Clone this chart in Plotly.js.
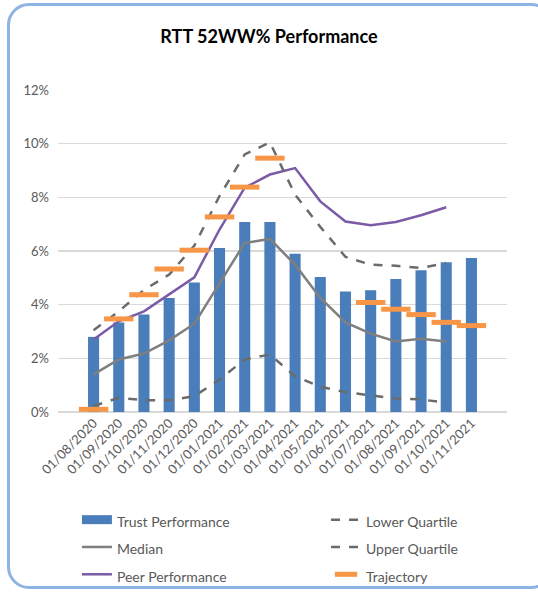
<!DOCTYPE html>
<html>
<head>
<meta charset="utf-8">
<script src="https://cdn.plot.ly/plotly-3.0.1.min.js"></script>
<style>
  html, body { margin: 0; padding: 0; background: #fff; }
  #wrap { position: relative; width: 538px; height: 592px; overflow: hidden; }
  #frame { position: absolute; left: 7px; top: 3px; width: 540px; height: 580px;
           border: 3px solid #8db4e2; border-radius: 22px; box-sizing: content-box; pointer-events: none; z-index: 2; }
  #chart { position: absolute; left: 0; top: 0; width: 538px; height: 592px; }
</style>
</head>
<body>
<div id="wrap">
  <div id="chart"></div>
  <div id="frame"></div>
</div>
<script>
const months = ['01/08/2020','01/09/2020','01/10/2020','01/11/2020','01/12/2020','01/01/2021','01/02/2021','01/03/2021','01/04/2021','01/05/2021','01/06/2021','01/07/2021','01/08/2021','01/09/2021','01/10/2021','01/11/2021'];
const trustPerformance = [0.0280,0.0334,0.0363,0.0425,0.0483,0.0611,0.0708,0.0708,0.0590,0.0503,0.0449,0.0454,0.0496,0.0528,0.0558,0.0574];
const lowerQuartile = [0.0022,0.0053,0.0044,0.0044,0.0059,0.0121,0.0196,0.0214,0.0133,0.0094,0.0074,0.0061,0.0050,0.0047,0.0034,null];
const median = [0.0140,0.0196,0.0218,0.0267,0.0329,0.0481,0.0630,0.0645,0.0549,0.0425,0.0334,0.0292,0.0263,0.0273,0.0263,null];
const upperQuartile = [0.0305,0.0375,0.0455,0.0512,0.0620,0.0805,0.0960,0.1005,0.0810,0.0690,0.0578,0.0549,0.0545,0.0537,0.0555,null];
const peerPerformance = [0.0270,0.0338,0.0375,0.0437,0.0502,0.0680,0.0836,0.0885,0.0909,0.0785,0.0710,0.0696,0.0708,0.0733,0.0763,null];
const trajectory = [0.0010,0.0347,0.0437,0.0533,0.0603,0.0727,0.0838,0.0946,null,null,null,0.0408,0.0383,0.0363,0.0334,0.0322];

const barColor = '#4a7ebb';
const lf = t => '<span style="font-size:14px">' + t + '</span>';
const traces = [
  {type:'bar', name:'Trust Performance', x: months, y: trustPerformance, marker:{color:barColor}, showlegend:false},
  // legend-only entry for the bars (wide bar symbol like the reference)
  {type:'scatter', mode:'lines', name: lf('Trust Performance'), x: months, y: months.map(() => null),
   line:{color:barColor, width:9}, hoverinfo:'skip', legend:'legend'},
  {type:'scatter', mode:'lines', name: lf('Median'), x: months, y: median, line:{color:'#7f7f7f', width:2.5}, legend:'legend'},
  {type:'scatter', mode:'lines', name: lf('Peer Performance'), x: months, y: peerPerformance, line:{color:'#7b5aa6', width:2.5}, legend:'legend'},
  {type:'scatter', mode:'lines', name: lf('Lower Quartile'), x: months, y: lowerQuartile, line:{color:'#6b6b6b', width:2.5, dash:'dash'}, legend:'legend2'},
  {type:'scatter', mode:'lines', name: lf('Upper Quartile'), x: months, y: upperQuartile, line:{color:'#6b6b6b', width:2.5, dash:'dash'}, legend:'legend2'},
  {type:'scatter', mode:'markers', name: lf('Trajectory'), x: months, y: trajectory,
   marker:{symbol:'line-ew', size:21, line:{color:'#f79646', width:5}}, legend:'legend2'}
];

const legendBase = {orientation:'v', xref:'container', yref:'container', xanchor:'left', yanchor:'top',
                    y:0.1537, traceorder:'normal', font:{size:18.7, color:'#595959'}, bgcolor:'rgba(0,0,0,0)'};

const layout = {
  width: 538, height: 592,
  margin: {l:58, r:31, t:90, b:179.5, autoexpand:false},
  paper_bgcolor:'#ffffff', plot_bgcolor:'#ffffff',
  font: {family:'Lato, "Liberation Sans", sans-serif', color:'#595959'},
  title: {text:'<b>RTT 52WW% Performance</b>', x:0.5, xanchor:'center', y:0.938, yanchor:'middle',
          font:{family:'Lato, sans-serif', size:18, color:'#000000'}},
  bargap: 0.56,
  showlegend: true,
  legend: Object.assign({}, legendBase, {x:0.143}),
  legend2: Object.assign({}, legendBase, {x:0.606}),
  xaxis: {type:'category', tickangle:-45, tickfont:{size:13, color:'#595959'}, automargin:false,
          showgrid:false, showline:false, ticks:'', zeroline:false, fixedrange:true},
  yaxis: {range:[0,0.12], dtick:0.02, tickformat:'.0%', tickfont:{size:13, color:'#595959'}, automargin:false,
          gridcolor:'#d9d9d9', gridwidth:1.3, zeroline:true, zerolinecolor:'#d9d9d9', zerolinewidth:1.3,
          showline:false, ticks:'', ticklabelstandoff:8, fixedrange:true}
};

Plotly.newPlot('chart', traces, layout, {displayModeBar:false, staticPlot:true});
</script>
</body>
</html>
